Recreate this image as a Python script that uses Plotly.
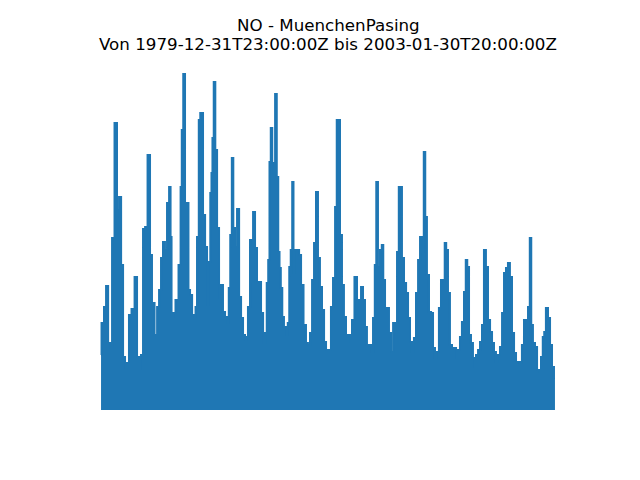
#!/usr/bin/env python3
"""NO time series for the station MuenchenPasing, 1980-2003 (axes hidden)."""
import plotly.graph_objects as go

STATION = "NO - MuenchenPasing"
PERIOD = "Von 1979-12-31T23:00:00Z bis 2003-01-30T20:00:00Z"

# decimal years and the upper envelope of the hourly NO values
years = [
    1980.00, 1980.05, 1980.10, 1980.20, 1980.31, 1980.41, 1980.51, 1980.61, 1980.76, 1980.86,
    1980.97, 1981.07, 1981.17, 1981.27, 1981.37, 1981.47, 1981.63, 1981.78, 1981.88, 1981.98,
    1982.08, 1982.19, 1982.29, 1982.44, 1982.54, 1982.64, 1982.80, 1982.90, 1983.00, 1983.10,
    1983.20, 1983.30, 1983.41, 1983.51, 1983.56, 1983.61, 1983.71, 1983.86, 1984.02, 1984.07,
    1984.14, 1984.22, 1984.32, 1984.42, 1984.47, 1984.58, 1984.68, 1984.78, 1984.83, 1984.93,
    1985.01, 1985.08, 1985.13, 1985.24, 1985.34, 1985.44, 1985.52, 1985.59, 1985.64, 1985.69,
    1985.77, 1985.85, 1985.95, 1986.05, 1986.15, 1986.25, 1986.36, 1986.46, 1986.53, 1986.61,
    1986.69, 1986.76, 1986.86, 1986.97, 1987.07, 1987.17, 1987.27, 1987.37, 1987.42, 1987.52,
    1987.63, 1987.68, 1987.78, 1987.88, 1987.98, 1988.08, 1988.19, 1988.29, 1988.39, 1988.46,
    1988.54, 1988.59, 1988.67, 1988.74, 1988.80, 1988.90, 1988.97, 1989.05, 1989.10, 1989.18,
    1989.25, 1989.35, 1989.46, 1989.53, 1989.61, 1989.68, 1989.76, 1989.81, 1989.91, 1990.02,
    1990.12, 1990.22, 1990.37, 1990.47, 1990.57, 1990.68, 1990.78, 1990.88, 1990.98, 1991.08,
    1991.18, 1991.29, 1991.39, 1991.49, 1991.64, 1991.74, 1991.85, 1991.95, 1992.02, 1992.10,
    1992.20, 1992.30, 1992.40, 1992.51, 1992.61, 1992.71, 1992.81, 1992.96, 1993.07, 1993.17,
    1993.27, 1993.37, 1993.47, 1993.57, 1993.68, 1993.78, 1993.88, 1993.96, 1994.03, 1994.13,
    1994.24, 1994.31, 1994.39, 1994.49, 1994.59, 1994.69, 1994.80, 1994.90, 1995.00, 1995.10,
    1995.18, 1995.25, 1995.35, 1995.46, 1995.56, 1995.66, 1995.76, 1995.86, 1995.96, 1996.07,
    1996.17, 1996.27, 1996.37, 1996.45, 1996.52, 1996.62, 1996.73, 1996.83, 1996.93, 1997.03,
    1997.13, 1997.23, 1997.34, 1997.44, 1997.51, 1997.59, 1997.69, 1997.79, 1997.90, 1998.00,
    1998.10, 1998.20, 1998.30, 1998.40, 1998.51, 1998.58, 1998.66, 1998.76, 1998.86, 1998.96,
    1999.01, 1999.12, 1999.22, 1999.32, 1999.42, 1999.52, 1999.62, 1999.73, 1999.83, 1999.93,
    2000.03, 2000.13, 2000.23, 2000.34, 2000.44, 2000.54, 2000.64, 2000.74, 2000.84, 2000.95,
    2001.05, 2001.15, 2001.25, 2001.35, 2001.45, 2001.56, 2001.66, 2001.76, 2001.84, 2001.91,
    2002.01, 2002.12, 2002.22, 2002.32, 2002.42, 2002.50, 2002.57, 2002.67, 2002.78, 2002.88,
    2002.98, 2003.08,
]
no_values = [
    165, 261, 261, 309, 372, 201, 186, 516, 861, 600,
    639, 435, 159, 126, 141, 285, 303, 399, 159, 123,
    165, 543, 549, 765, 465, 321, 225, 309, 360, 456,
    504, 480, 621, 669, 519, 279, 291, 330, 435, 669,
    840, 1008, 621, 621, 360, 345, 285, 279, 309, 519,
    870, 891, 891, 585, 489, 315, 444, 651, 711, 816,
    984, 780, 546, 336, 375, 294, 279, 261, 366, 525,
    756, 546, 489, 603, 339, 276, 225, 210, 219, 309,
    510, 384, 594, 486, 354, 384, 291, 201, 231, 381,
    450, 744, 846, 741, 711, 948, 699, 474, 426, 366,
    279, 249, 225, 261, 429, 480, 684, 411, 480, 480,
    465, 375, 255, 201, 195, 231, 390, 501, 654, 456,
    369, 300, 204, 180, 180, 309, 396, 609, 870, 870,
    525, 375, 279, 225, 225, 204, 270, 399, 330, 330,
    369, 330, 249, 195, 195, 174, 276, 435, 684, 429,
    480, 495, 390, 306, 306, 231, 174, 261, 261, 474,
    669, 669, 456, 381, 351, 276, 204, 174, 216, 351,
    450, 519, 474, 774, 579, 405, 294, 291, 186, 156,
    174, 306, 390, 384, 501, 480, 351, 195, 186, 186,
    156, 180, 219, 264, 354, 450, 429, 225, 201, 156,
    129, 165, 180, 204, 255, 480, 429, 270, 234, 201,
    174, 144, 165, 189, 291, 411, 426, 441, 399, 231,
    171, 144, 144, 141, 195, 270, 225, 309, 516, 255,
    201, 189, 120, 114, 159, 219, 234, 306, 276, 195,
    129, 96,
]

LINE_COLOR = "#1f77b4"
TITLE_FONT = dict(family="DejaVu Sans", size=16.7, color="black")

fig = go.Figure()
fig.add_trace(go.Scatter(
    x=years,
    y=no_values,
    mode="lines",
    line=dict(color=LINE_COLOR, width=2, shape="hvh"),
    fill="tozeroy",
    fillcolor=LINE_COLOR,
    hovertemplate="%{x:.2f}: %{y}<extra></extra>",
    showlegend=False,
))

# two title lines, placed separately to keep them close like the original
fig.add_annotation(text=STATION, x=0.5, y=1.0907, xref="paper", yref="paper",
                   xanchor="center", yanchor="middle", showarrow=False, font=TITLE_FONT)
fig.add_annotation(text=PERIOD, x=0.5, y=1.0385, xref="paper", yref="paper",
                   xanchor="center", yanchor="middle", showarrow=False, font=TITLE_FONT)

fig.update_xaxes(visible=False, range=[1978.93, 2004.15])
fig.update_yaxes(visible=False, range=[-36, 1056])
# the page body adds 8px on the top and left, so the figure is 632x472
fig.update_layout(
    width=632,
    height=472,
    margin=dict(l=72, r=64, t=50, b=58),
    plot_bgcolor="white",
    paper_bgcolor="white",
)

fig.write_html("out.html")
